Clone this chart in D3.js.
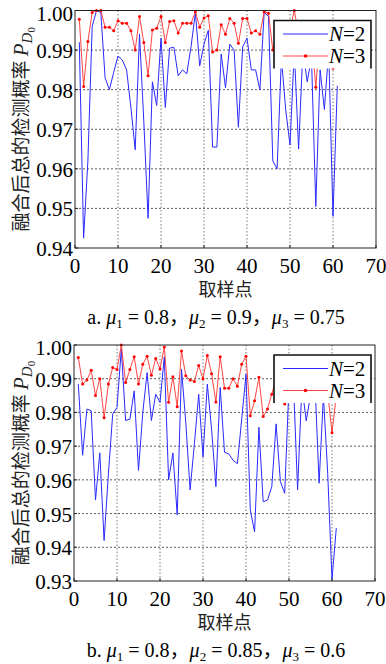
<!DOCTYPE html>
<html>
<head>
<meta charset="utf-8">
<script src="https://cdn.jsdelivr.net/npm/d3@7/dist/d3.min.js"></script>
<style>
body { margin: 0; background: #fff; }
</style>
</head>
<body>
<script>
// sample index (x axis)
const samples = [1,2,3,4,5,6,7,8,9,10,11,12,13,14,15,16,17,18,19,20,
  21,22,23,24,25,26,27,28,29,30,31,32,33,34,35,36,37,38,39,40,
  41,42,43,44,45,46,47,48,49,50,51,52,53,54,55,56,57,58,59,60,61];

// panel a: mu1=0.8, mu2=0.9, mu3=0.75
const aN2 = [0.992,0.9425,0.962,0.996,1.000,0.9995,0.983,0.980,0.9844,0.9885,
  0.9875,0.985,0.9755,0.9648,0.994,0.972,0.9475,0.982,0.976,0.993,
  0.9755,0.9905,0.9907,0.9835,0.985,0.984,0.991,0.9995,0.986,0.9915,
  0.995,0.9655,0.9655,0.989,0.9805,0.9915,0.990,0.9705,0.9908,0.993,
  0.985,0.985,0.980,0.9995,0.9985,0.962,0.960,0.988,0.975,0.966,
  0.990,0.965,0.990,0.982,0.988,0.9505,0.985,0.975,0.990,0.948,0.981];
const aN3 = [0.9978,0.9808,0.9922,0.9995,1.000,1.000,0.9958,0.9958,0.9949,0.9974,
  0.9968,0.9968,0.9949,0.990,0.9985,0.9919,0.9835,0.9951,0.9955,0.9985,
  0.9919,0.9972,0.9974,0.9943,0.9968,0.9968,0.9968,0.9997,0.9958,0.9981,
  0.9987,0.9895,0.990,0.9964,0.994,0.998,0.9968,0.9917,0.998,0.998,
  0.9943,0.9949,0.994,0.9997,0.9993,0.990,0.993,0.996,0.992,0.995,
  1.000,0.994,0.996,0.991,0.994,0.9806,0.995,0.993,0.996,0.9854,0.993];

// panel b: mu1=0.8, mu2=0.85, mu3=0.6
const bN2 = [0.9884,0.9673,0.981,0.9805,0.954,0.968,0.942,0.9618,0.9795,0.9815,
  0.9988,0.9776,0.978,0.9864,0.9628,0.980,0.9918,0.9776,0.9854,0.983,
  0.9965,0.960,0.968,0.9496,0.9928,0.977,0.957,0.9707,0.9854,0.9668,
  0.9884,0.975,0.958,0.9874,0.9682,0.9677,0.9658,0.9648,0.978,0.9913,
  0.951,0.9446,0.9756,0.9535,0.954,0.958,0.9766,0.9595,0.956,0.988,
  0.990,0.957,0.988,0.9775,0.985,0.990,0.959,0.985,0.962,0.9305,0.9457];
const bN3 = [0.9963,0.9884,0.9896,0.9925,0.985,0.990,0.9784,0.9884,0.9933,0.9927,
  1.000,0.9889,0.9927,0.9965,0.9884,0.9943,0.9967,0.991,0.996,0.9929,
  0.9994,0.983,0.9906,0.9817,0.9982,0.9909,0.9896,0.9892,0.9939,0.990,
  0.9969,0.9915,0.9831,0.9965,0.9872,0.9872,0.990,0.9878,0.9943,0.9967,
  0.979,0.9835,0.9904,0.9788,0.981,0.9854,0.990,0.986,0.9825,0.992,
  0.995,0.990,0.994,0.991,0.993,0.9845,0.992,0.990,0.986,0.974,0.985];

const xTicks = [0,10,20,30,40,50,60,70];
const aYTicks = [0.94,0.95,0.96,0.97,0.98,0.99,1.00];
const bYTicks = [0.93,0.94,0.95,0.96,0.97,0.98,0.99,1.00];
const seriesNames = ["N=2", "N=3"];

const serif = "'Liberation Serif','DejaVu Serif',serif";
const cjk = "'Noto Sans CJK SC','Noto Sans',sans-serif";

const svg = d3.select("body").append("svg")
    .attr("width", 386)
    .attr("height", 664);

function panel(o) {
  const x = d3.scaleLinear().domain([0, 70]).range([o.left, o.right]);
  const y = d3.scaleLinear().domain([o.yTicks[0], 1]).range([o.bottom, o.top]);
  const g = svg.append("g");

  // grid
  g.append("g").selectAll("line")
    .data(xTicks.slice(1, -1))
    .join("line")
    .attr("x1", d => x(d)).attr("x2", d => x(d))
    .attr("y1", o.top).attr("y2", o.bottom)
    .attr("stroke", "#555").attr("stroke-width", 0.8)
    .attr("stroke-dasharray", "1.5,2");
  g.append("g").selectAll("line")
    .data(o.yTicks.slice(1, -1))
    .join("line")
    .attr("x1", o.left).attr("x2", o.right)
    .attr("y1", d => y(d)).attr("y2", d => y(d))
    .attr("stroke", "#333").attr("stroke-width", 0.8)
    .attr("stroke-dasharray", "2,2");

  const line = (vals) => d3.line()
    .x((d, i) => x(samples[i]))
    .y(d => y(d))(vals);

  g.append("path")
    .attr("d", line(o.n2))
    .attr("fill", "none")
    .attr("stroke", "#2a2aff")
    .attr("stroke-width", 1);

  g.append("path")
    .attr("d", line(o.n3))
    .attr("fill", "none")
    .attr("stroke", "#ff3030")
    .attr("stroke-width", 0.9);
  g.append("g").selectAll("circle")
    .data(o.n3)
    .join("circle")
    .attr("cx", (d, i) => x(samples[i]))
    .attr("cy", d => y(d))
    .attr("r", 1.5)
    .attr("fill", "#ff0000");

  // frame
  g.append("rect")
    .attr("x", o.left).attr("y", o.top)
    .attr("width", o.right - o.left).attr("height", o.bottom - o.top)
    .attr("fill", "none").attr("stroke", "#222").attr("stroke-width", 1);

  // ticks inside
  g.append("g").selectAll("line")
    .data(xTicks)
    .join("line")
    .attr("x1", d => x(d)).attr("x2", d => x(d))
    .attr("y1", o.bottom).attr("y2", o.bottom - 3)
    .attr("stroke", "#222");
  g.append("g").selectAll("line")
    .data(o.yTicks)
    .join("line")
    .attr("x1", o.left).attr("x2", o.left + 3)
    .attr("y1", d => y(d)).attr("y2", d => y(d))
    .attr("stroke", "#222");

  // tick labels
  g.append("g").selectAll("text")
    .data(xTicks)
    .join("text")
    .attr("x", d => x(d))
    .attr("y", o.bottom + 25)
    .attr("text-anchor", "middle")
    .style("font-family", serif)
    .style("font-size", "21px")
    .text(d => d);
  g.append("g").selectAll("text")
    .data(o.yTicks)
    .join("text")
    .attr("x", o.left - 2)
    .attr("y", d => y(d) + (d === 1 ? 10 : 8))
    .attr("text-anchor", "end")
    .style("font-family", serif)
    .style("font-size", "21px")
    .text(d3.format(".2f"));

  // y label
  const yl = g.append("text")
    .attr("transform", `translate(28,${(o.top + o.bottom) / 2}) rotate(-90)`)
    .attr("text-anchor", "middle")
    .style("font-size", "19px")
    .attr("fill", "#222");
  yl.append("tspan").style("font-family", cjk).text("融合后总的检测概率 ");
  yl.append("tspan").style("font-family", serif).style("font-style", "italic")
    .style("font-size", "21px").text("P");
  yl.append("tspan").style("font-family", serif).style("font-style", "italic")
    .style("font-size", "15px").attr("dy", 4).text("D");
  yl.append("tspan").style("font-family", serif)
    .style("font-size", "11px").attr("dy", 3).text("0");

  // x label
  g.append("text")
    .attr("x", (o.left + o.right) / 2)
    .attr("y", o.bottom + 48)
    .attr("text-anchor", "middle")
    .style("font-family", cjk)
    .style("font-size", "18px")
    .attr("fill", "#222")
    .text("取样点");

  // caption
  const cap = g.append("text")
    .attr("x", 216)
    .attr("y", o.bottom + 76)
    .attr("text-anchor", "middle")
    .style("font-family", serif)
    .style("font-size", "20px");
  cap.append("tspan").text(o.tag + ". ");
  o.mus.forEach((m, i) => {
    cap.append("tspan").style("font-style", "italic").text("μ");
    cap.append("tspan").style("font-size", "13px").attr("dy", 4).text(i + 1);
    cap.append("tspan").attr("dy", -4).text(" = " + m);
    if (i < o.mus.length - 1) cap.append("tspan").style("font-family", cjk).text("，");
  });

  // legend
  const lg = g.append("g");
  const lx0 = 274, lx1 = 371, ly0 = o.top + 10, ly1 = o.top + 58;
  lg.append("rect")
    .attr("x", lx0).attr("y", ly0)
    .attr("width", lx1 - lx0).attr("height", ly1 - ly0)
    .attr("fill", "#fff");
  lg.append("path")
    .attr("d", `M${lx0},${ly1}V${ly0}H${lx1}V${ly1}`)
    .attr("fill", "none").attr("stroke", "#111").attr("stroke-width", 1.6);
  const rows = [ly0 + 13.5, ly0 + 35.5];
  lg.append("line").attr("x1", 283).attr("x2", 328)
    .attr("y1", rows[0]).attr("y2", rows[0])
    .attr("stroke", "#2a2aff").attr("stroke-width", 1);
  lg.append("line").attr("x1", 283).attr("x2", 328)
    .attr("y1", rows[1]).attr("y2", rows[1])
    .attr("stroke", "#ff3030").attr("stroke-width", 0.9);
  lg.append("circle").attr("cx", 305.5).attr("cy", rows[1]).attr("r", 1.8).attr("fill", "#ff0000");
  seriesNames.forEach((s, i) => {
    const t = lg.append("text")
      .attr("x", 329).attr("y", rows[i] + 7)
      .style("font-family", serif).style("font-size", "21px");
    t.append("tspan").style("font-style", "italic").text(s.split("=")[0]);
    t.append("tspan").text("=" + s.split("=")[1]);
  });
}

panel({ left: 75, right: 376, top: 10.5, bottom: 248, yTicks: aYTicks,
  n2: aN2, n3: aN3, tag: "a", mus: ["0.8", "0.9", "0.75"] });
panel({ left: 74, right: 375, top: 345, bottom: 581, yTicks: bYTicks,
  n2: bN2, n3: bN3, tag: "b", mus: ["0.8", "0.85", "0.6"] });
</script>
</body>
</html>
